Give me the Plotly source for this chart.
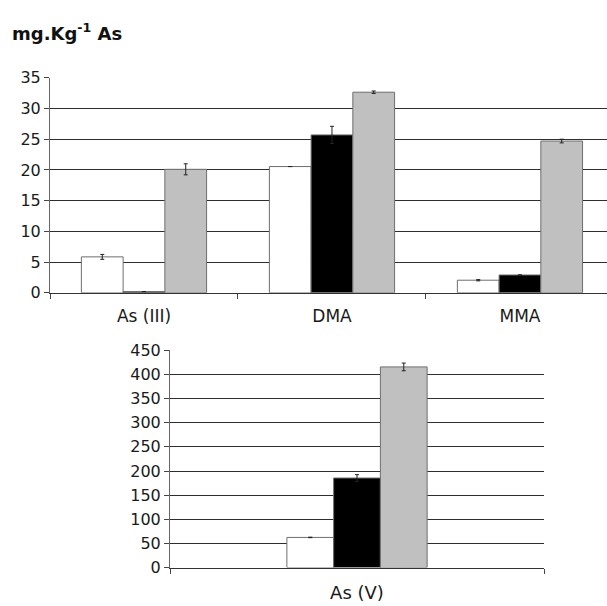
import plotly.graph_objects as go

# ---- data ----
categories_top = ["As (III)", "DMA", "MMA"]
white_top = [5.85, 20.55, 2.05]
white_top_err = [0.4, 0.0, 0.1]
black_top = [0.2, 25.7, 2.9]
black_top_err = [0.0, 1.4, 0.0]
gray_top = [20.1, 32.65, 24.7]
gray_top_err = [0.9, 0.2, 0.3]

categories_bottom = ["As (V)"]
white_bottom = [62.5]
white_bottom_err = [0.5]
black_bottom = [185.5]
black_bottom_err = [7.0]
gray_bottom = [415.5]
gray_bottom_err = [8.0]

top_ticks = [0, 5, 10, 15, 20, 25, 30, 35]
bottom_ticks = [0, 50, 100, 150, 200, 250, 300, 350, 400, 450]

FONT = "DejaVu Sans"
fills = ["#ffffff", "#000000", "#c0c0c0"]
names = ["Series 1", "Series 2", "Series 3"]

fig = go.Figure()

def add_group(cats, series, errs, xa, ya, w):
    offsets = [-1.5 * w, -0.5 * w, 0.5 * w]
    for vals, err, fill, off, nm in zip(series, errs, fills, offsets, names):
        fig.add_trace(go.Bar(
            x=cats, y=vals, name=nm, showlegend=False,
            width=w, offset=off,
            marker=dict(color=fill, line=dict(color="#6e6e6e", width=1)),
            error_y=dict(type="data", array=err, visible=True,
                         color="#222222", thickness=1, width=2),
            xaxis=xa, yaxis=ya,
        ))

add_group(categories_top, [white_top, black_top, gray_top],
          [white_top_err, black_top_err, gray_top_err], "x", "y", 0.222)
add_group(categories_bottom, [white_bottom, black_bottom, gray_bottom],
          [white_bottom_err, black_bottom_err, gray_bottom_err], "x2", "y2", 0.125)

axis_common_y = dict(
    showgrid=True, gridcolor="#2e2e2e", gridwidth=1.3,
    showline=True, linecolor="#666666", linewidth=1,
    ticks="outside", ticklen=5, tickcolor="#444444",
    tickfont=dict(family=FONT, size=16, color="#1a1a1a"),
    zeroline=False,
)
axis_common_x = dict(
    type="category", showgrid=False, showline=True,
    linecolor="#333333", linewidth=1.3,
    ticks="outside", ticklen=5, tickcolor="#444444",
    tickson="boundaries", zeroline=False,
)

fig.update_layout(
    width=607, height=606,
    margin=dict(l=0, r=0, t=0, b=0),
    paper_bgcolor="white", plot_bgcolor="white",
    barmode="overlay",
    xaxis=dict(axis_common_x, domain=[50 / 607, 1.0], range=[-0.5, 2.463],
               anchor="y", tickfont=dict(family=FONT, size=17, color="#1a1a1a"),
               ticklabelstandoff=8),
    yaxis=dict(axis_common_y, domain=[1 - 293 / 606, 1 - 71 / 606], range=[0, 35],
               tickvals=top_ticks, anchor="x"),
    xaxis2=dict(axis_common_x, domain=[170 / 607, 544 / 607], range=[-0.5, 0.5],
                anchor="y2", tickfont=dict(family=FONT, size=18, color="#1a1a1a"),
                ticklabelstandoff=9),
    yaxis2=dict(axis_common_y, domain=[1 - 576.7 / 606, 1 - 352.3 / 606], range=[0, 450],
                tickvals=bottom_ticks, anchor="x2"),
    annotations=[dict(
        text="<b>mg.Kg<sup>-1</sup> As</b>", x=10 / 607, y=1 - 24 / 606,
        xref="paper", yref="paper", xanchor="left", yanchor="middle",
        showarrow=False, font=dict(family=FONT, size=18, color="#111111"),
    )],
)

fig.write_html("out.html")
